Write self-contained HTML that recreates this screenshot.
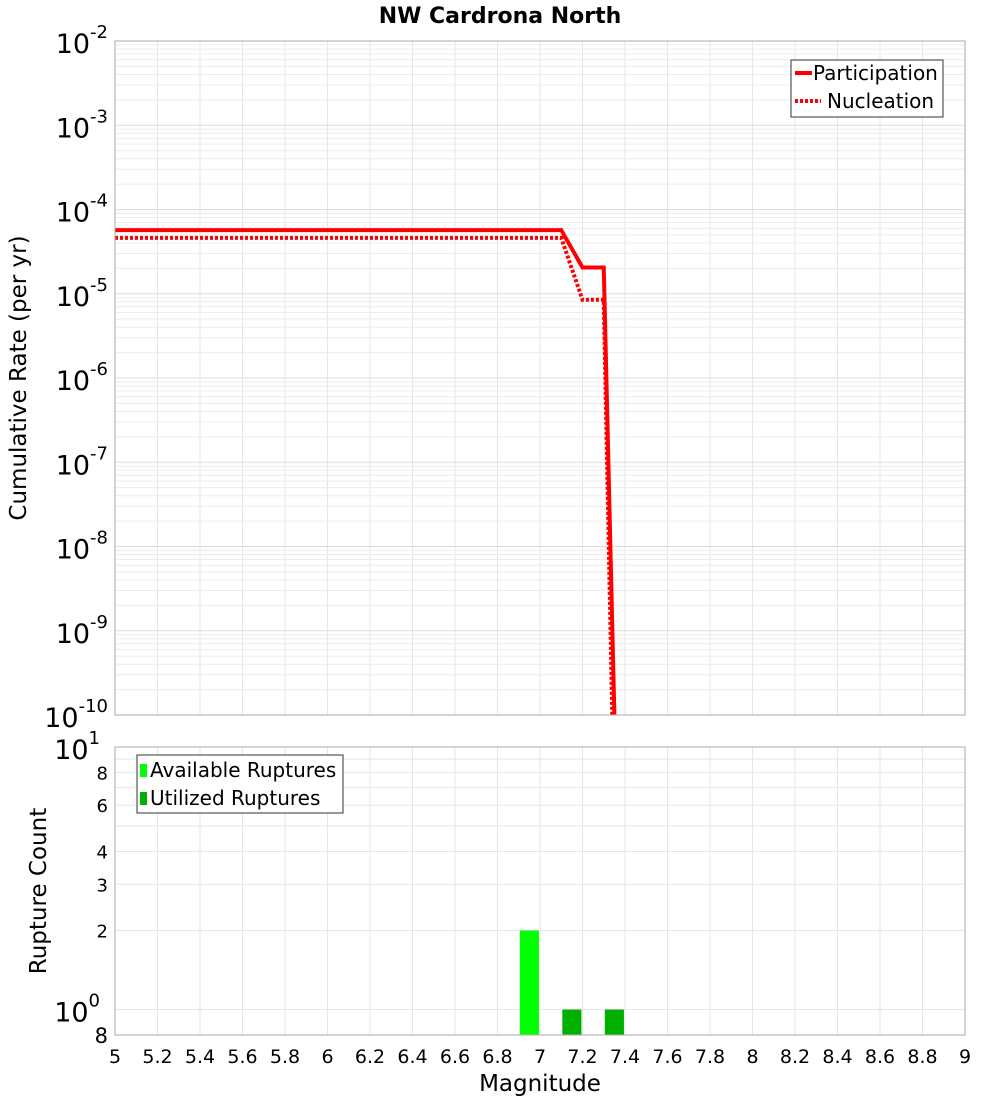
<!DOCTYPE html>
<html><head><meta charset="utf-8"><style>
body{margin:0;background:#fff}
svg text{font-family:"DejaVu Sans","Liberation Sans",sans-serif}
</style></head><body>
<svg id="c" width="1000" height="1100" xmlns="http://www.w3.org/2000/svg">
<text x="500" y="23" text-anchor="middle" font-size="22" font-weight="bold">NW Cardrona North</text>
<g id="grid"></g>
<g id="marks"></g>
<rect x="115" y="41" width="850" height="674" fill="none" stroke="#aaa"/>
<rect x="115" y="747" width="850" height="288" fill="none" stroke="#aaa"/>
<g id="labels"></g>
<text transform="translate(26,378) rotate(-90)" text-anchor="middle" font-size="23">Cumulative Rate (per yr)</text>
<text transform="translate(46,891) rotate(-90)" text-anchor="middle" font-size="23">Rupture Count</text>
<text x="540" y="1091" text-anchor="middle" font-size="23">Magnitude</text>
<g>
<rect x="791" y="60" width="152" height="57" fill="#fff" stroke="#333"/>
<line x1="795" y1="73" x2="812" y2="73" stroke="red" stroke-width="4"/>
<text x="813" y="80" font-size="20">Participation</text>
<line x1="795" y1="101" x2="821" y2="101" stroke="red" stroke-width="4" stroke-dasharray="3,2"/>
<text x="827" y="108" font-size="20">Nucleation</text>
</g>
<g>
<rect x="137" y="755" width="206" height="58" fill="#fff" stroke="#333"/>
<rect x="140" y="764" width="7" height="13" fill="#00ff00"/>
<text x="150" y="777" font-size="20">Available Ruptures</text>
<rect x="140" y="792" width="7" height="13" fill="#00b000"/>
<text x="150" y="805" font-size="20">Utilized Ruptures</text>
</g>
</svg>
<script>
const partMag=[5.0,7.1,7.2,7.3,7.35];
const partRate=[5.7e-5,5.7e-5,2.05e-5,2.05e-5,1e-10];
const nuclMag=[5.0,7.1,7.2,7.3,7.34];
const nuclRate=[4.6e-5,4.6e-5,8.5e-6,8.5e-6,1e-10];
const availMag=[6.95];
const availCount=[2];
const utilMag=[7.15,7.35];
const utilCount=[1,1];
const xTicks=["5","5.2","5.4","5.6","5.8","6","6.2","6.4","6.6","6.8","7","7.2","7.4","7.6","7.8","8","8.2","8.4","8.6","8.8","9"];
const topExp=[-2,-3,-4,-5,-6,-7,-8,-9,-10];
const botTicks=[8,6,4,3,2];
const NS="http://www.w3.org/2000/svg";
const X=m=>115+(m-5)*212.5;
const YT=v=>41+(-2-Math.log10(v))*84.25;
const YB=v=>1035-(Math.log10(v)-Math.log10(0.8))*262.6;
function mk(t,a,p){const e=document.createElementNS(NS,t);for(const k in a)e.setAttribute(k,a[k]);(p||document.getElementById('marks')).appendChild(e);return e;}
const g=document.getElementById('grid'),lb=document.getElementById('labels');
xTicks.forEach(t=>{const x=X(+t);
 let l=mk('line',{x1:x,x2:x,y1:41,y2:715,stroke:'#e6e6e6'},g);
 l=mk('line',{x1:x,x2:x,y1:747,y2:1035,stroke:'#e6e6e6'},g);
 const tx=mk('text',{x:x,y:1063,'text-anchor':'middle','font-size':19},lb);tx.textContent=t;});
topExp.forEach(e=>{if(e>-10){for(let k=1;k<10;k++){const y=YT(k*Math.pow(10,e-1));
 const l=mk('line',{x1:115,x2:965,y1:y,y2:y,stroke:k==1?'#ddd':'#ececec'},g);}}
 const y=YT(Math.pow(10,e));
 const t=mk('text',{x:108,y:y+12,'text-anchor':'end','font-size':27},lb);
 t.innerHTML='10<tspan dy="-15" font-size="18">'+e+'</tspan>';});
[1,2,3,4,5,6,7,8,9,10].forEach(v=>{const y=YB(v);const l=mk('line',{x1:115,x2:965,y1:y,y2:y,stroke:'#e6e6e6'},g);});
botTicks.forEach(v=>{const t=mk('text',{x:108,y:YB(v)+7,'text-anchor':'end','font-size':18},lb);t.textContent=v;});
[[10,1],[1,0]].forEach(([v,e])=>{const t=mk('text',{x:100,y:YB(v)+12,'text-anchor':'end','font-size':27},lb);t.innerHTML='10<tspan dy="-15" font-size="18">'+e+'</tspan>';});
let t8=mk('text',{x:108,y:1043,'text-anchor':'end','font-size':21},lb);t8.textContent='8';
function path(ms,rs){return ms.map((m,i)=>(i?'L':'M')+X(m)+','+YT(rs[i])).join(' ');}
let p=mk('path',{d:path(nuclMag,nuclRate),fill:'none',stroke:'red','stroke-width':4,'stroke-dasharray':'3,2'});
p=mk('path',{d:path(partMag,partRate),fill:'none',stroke:'red','stroke-width':4});
const bw=0.09*212.5;
availMag.forEach((m,i)=>{const r=mk('rect',{x:X(m)-bw/2,y:YB(availCount[i]),width:bw,height:1035-YB(availCount[i]),fill:'#00ff00'});});
utilMag.forEach((m,i)=>{const r=mk('rect',{x:X(m)-bw/2,y:YB(utilCount[i]),width:bw,height:1035-YB(utilCount[i]),fill:'#00b000'});});
</script>
</body></html>
